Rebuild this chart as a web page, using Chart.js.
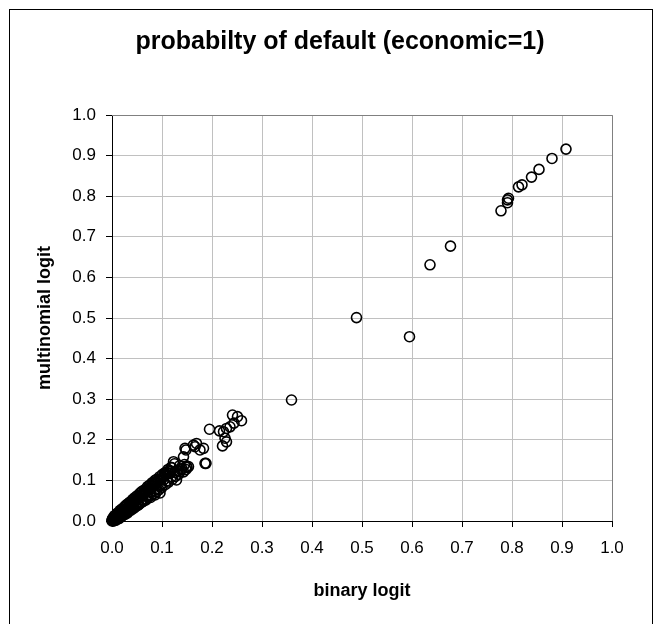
<!DOCTYPE html>
<html lang="en">
<head>
    <meta charset="UTF-8">
    <title>probabilty of default (economic=1)</title>
    <script src="https://cdn.jsdelivr.net/npm/chart.js"></script>
    <style>
        body { margin: 0; background: #fff; overflow: hidden; }
        #wrap { position: absolute; left: 0; top: 0; width: 659px; height: 624px; }
        #frame { position: absolute; left: 9px; top: 9px; width: 642px; height: 700px; border: 1px solid #000; pointer-events: none; }
    </style>
</head>
<body>
    <div id="wrap"><canvas id="pdChart" width="659" height="624"></canvas></div>
    <div id="frame"></div>
    <script>
        const chartTitle = 'probabilty of default (economic=1)';
        const xAxisLabel = 'binary logit';
        const yAxisLabel = 'multinomial logit';

        // binary logit estimate (x) vs multinomial logit estimate (y), one pair per observation
        const binaryLogit = [
            0.001, 0.002, 0.003, 0.003, 0.004, 0.005, 0.006, 0.007, 0.008, 0.009,
            0.010, 0.011, 0.012, 0.014, 0.015, 0.016, 0.018, 0.019, 0.021, 0.022,
            0.024, 0.025, 0.027, 0.029, 0.030, 0.032, 0.034, 0.036, 0.037, 0.039,
            0.041, 0.043, 0.045, 0.047, 0.049, 0.051, 0.053, 0.055, 0.057, 0.060,
            0.062, 0.064, 0.066, 0.069, 0.071, 0.074, 0.076, 0.079, 0.081, 0.084,
            0.087, 0.090, 0.093, 0.096, 0.099, 0.102, 0.105, 0.108, 0.112, 0.116,
            0.004, 0.012, 0.020, 0.028, 0.035, 0.044, 0.052, 0.060, 0.068, 0.077,
            0.086, 0.096, 0.103, 0.116, 0.129, 0.123, 0.136, 0.143, 0.153, 0.143,
            0.148, 0.146, 0.163, 0.169, 0.166, 0.176, 0.183, 0.186, 0.188, 0.149,
            0.195, 0.215, 0.223, 0.229, 0.236, 0.244, 0.241, 0.251, 0.259, 0.226,
            0.221, 0.229, 0.359, 0.489, 0.595, 0.636, 0.677, 0.778, 0.791, 0.791,
            0.793, 0.813, 0.820, 0.839, 0.854, 0.880, 0.908,
            // upper edge of the dense band
            0.005, 0.010, 0.016, 0.020, 0.026, 0.030, 0.035, 0.041, 0.045, 0.050,
            0.056, 0.060, 0.065, 0.071, 0.075, 0.080, 0.086, 0.090, 0.095, 0.101,
            0.106, 0.112, 0.118,
            // lower edge of the dense band
            0.008, 0.014, 0.019, 0.026, 0.031, 0.038, 0.043, 0.048, 0.054, 0.058,
            0.063, 0.067, 0.072, 0.078, 0.083, 0.089, 0.094, 0.100, 0.107, 0.113,
            0.121, 0.127, 0.133,
            // pile-up at the origin and spill around 0.12-0.15
            0.000, 0.001, 0.003, 0.002, 0.006, 0.000,
            0.120, 0.125, 0.131, 0.135, 0.140, 0.145, 0.150, 0.148,
            // further observations inside the band
            0.002, 0.007, 0.011, 0.013, 0.017, 0.023, 0.028, 0.033, 0.038, 0.042,
            0.046, 0.052, 0.056, 0.061, 0.067, 0.070, 0.073, 0.078, 0.082, 0.088,
            0.092, 0.097, 0.104, 0.110, 0.115, 0.119, 0.126, 0.138, 0.010, 0.018,
            0.027, 0.036, 0.048, 0.059, 0.070, 0.085, 0.098, 0.109
        ];
        const multinomialLogit = [
            0.001, 0.003, 0.002, 0.005, 0.004, 0.006, 0.007, 0.008, 0.010, 0.009,
            0.012, 0.011, 0.014, 0.015, 0.017, 0.016, 0.020, 0.019, 0.023, 0.022,
            0.026, 0.025, 0.029, 0.031, 0.030, 0.034, 0.036, 0.039, 0.037, 0.042,
            0.044, 0.045, 0.049, 0.050, 0.052, 0.055, 0.056, 0.059, 0.061, 0.064,
            0.066, 0.068, 0.071, 0.073, 0.076, 0.078, 0.081, 0.084, 0.086, 0.089,
            0.092, 0.095, 0.099, 0.101, 0.104, 0.108, 0.111, 0.114, 0.118, 0.122,
            0.001, 0.007, 0.014, 0.020, 0.026, 0.033, 0.039, 0.047, 0.052, 0.058,
            0.064, 0.069, 0.101, 0.117, 0.101, 0.146, 0.121, 0.158, 0.134, 0.121,
            0.175, 0.179, 0.187, 0.191, 0.183, 0.175, 0.179, 0.142, 0.142, 0.134,
            0.226, 0.222, 0.220, 0.228, 0.232, 0.241, 0.261, 0.257, 0.247, 0.204,
            0.185, 0.195, 0.298, 0.501, 0.454, 0.631, 0.677, 0.764, 0.784, 0.791,
            0.795, 0.823, 0.828, 0.847, 0.866, 0.893, 0.916,
            0.013, 0.019, 0.026, 0.030, 0.037, 0.041, 0.046, 0.053, 0.057, 0.062,
            0.069, 0.073, 0.077, 0.085, 0.088, 0.094, 0.100, 0.103, 0.109, 0.115,
            0.119, 0.127, 0.132,
            0.002, 0.006, 0.011, 0.016, 0.020, 0.027, 0.031, 0.036, 0.041, 0.045,
            0.049, 0.054, 0.058, 0.063, 0.067, 0.072, 0.077, 0.083, 0.090, 0.096,
            0.103, 0.110, 0.115,
            0.000, 0.004, 0.000, 0.006, 0.002, 0.002,
            0.131, 0.141, 0.124, 0.136, 0.129, 0.139, 0.132, 0.127,
            0.008, 0.004, 0.017, 0.008, 0.024, 0.017, 0.035, 0.027, 0.046, 0.035,
            0.054, 0.044, 0.064, 0.053, 0.074, 0.062, 0.082, 0.070, 0.091, 0.079,
            0.100, 0.087, 0.113, 0.099, 0.124, 0.109, 0.120, 0.126, 0.005, 0.024,
            0.022, 0.044, 0.041, 0.066, 0.061, 0.095, 0.089, 0.120
        ];
        const tickValues = [0, 0.1, 0.2, 0.3, 0.4, 0.5, 0.6, 0.7, 0.8, 0.9, 1.0];

        const points = binaryLogit.map((x, i) => ({ x: x, y: multinomialLogit[i] }));

        // gray frame on top/right of plot area, like the old excel plot area border
        const plotFrame = {
            id: 'plotFrame',
            beforeDatasetsDraw(chart) {
                const a = chart.chartArea, c = chart.ctx;
                c.save();
                c.strokeStyle = '#808080';
                c.lineWidth = 1;
                c.beginPath();
                c.moveTo(a.left, a.top + 0.5);
                c.lineTo(a.right + 0.5, a.top + 0.5);
                c.lineTo(a.right + 0.5, a.bottom);
                c.stroke();
                c.restore();
            }
        };

        const fontFamily = 'Liberation Sans, Arial, sans-serif';
        const tickFont = { family: fontFamily, size: 17 };
        const titleFont = { family: fontFamily, size: 18, weight: 'bold' };

        const ctx = document.getElementById('pdChart').getContext('2d');
        const pdChart = new Chart(ctx, {
            type: 'scatter',
            data: {
                datasets: [{
                    data: points,
                    pointStyle: 'circle',
                    pointRadius: 5,
                    pointHoverRadius: 5,
                    pointBorderWidth: 1.6,
                    pointBackgroundColor: 'rgba(0,0,0,0)',
                    pointBorderColor: '#000',
                    clip: false
                }]
            },
            options: {
                responsive: false,
                animation: false,
                events: [],
                layout: { padding: { left: 21, right: 0, top: 0, bottom: 0 } },
                plugins: {
                    legend: { display: false },
                    tooltip: { enabled: false },
                    title: {
                        display: true,
                        text: chartTitle,
                        color: '#000',
                        font: { family: fontFamily, size: 25, weight: 'bold' },
                        padding: { top: 27, bottom: 58 }
                    }
                },
                scales: {
                    x: {
                        type: 'linear',
                        min: 0,
                        max: 1,
                        afterBuildTicks: s => { s.ticks = tickValues.map(v => ({ value: v })); },
                        afterFit: s => { s.height = 103; },
                        ticks: { color: '#000', font: tickFont, padding: 11, maxRotation: 0,
                                 callback: v => v.toFixed(1) },
                        grid: { color: '#c0c0c0', tickColor: '#000', tickLength: 6 },
                        border: { color: '#000', width: 1 },
                        title: { display: true, text: xAxisLabel, color: '#000', font: titleFont,
                                 padding: { top: 0, bottom: 22 } }
                    },
                    y: {
                        type: 'linear',
                        min: 0,
                        max: 1,
                        afterBuildTicks: s => { s.ticks = tickValues.map(v => ({ value: v })); },
                        afterFit: s => { s.width = 91; },
                        ticks: { color: '#000', font: tickFont, padding: 10,
                                 callback: v => v.toFixed(1) },
                        grid: { color: '#c0c0c0', tickColor: '#000', tickLength: 6 },
                        border: { color: '#000', width: 1 },
                        title: { display: true, text: yAxisLabel, color: '#000', font: titleFont,
                                 padding: { top: 13, bottom: 0 } }
                    },
                    // empty right-hand axis, only reserves the margin right of the plot
                    yRight: {
                        type: 'linear',
                        position: 'right',
                        min: 0,
                        max: 1,
                        afterFit: s => { s.width = 47; },
                        ticks: { display: false },
                        grid: { display: false },
                        border: { display: false }
                    }
                }
            },
            plugins: [plotFrame]
        });
    </script>
</body>
</html>
